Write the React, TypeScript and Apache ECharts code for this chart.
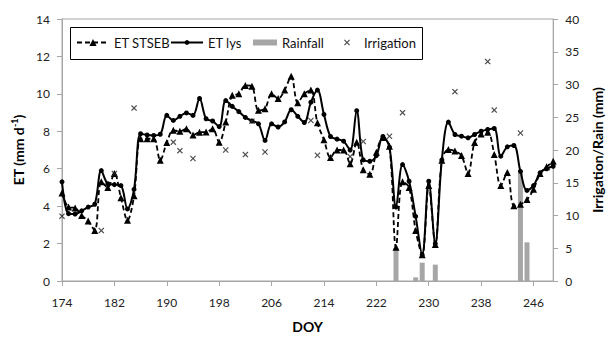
import React, { useEffect, useRef } from "react";
import * as echarts from "echarts";

// Day of year for the ET series
const doy = [
  174, 175, 176, 177, 178, 179, 180, 181, 182, 183,
  184, 185, 186, 187, 188, 189, 190, 191, 192, 193,
  194, 195, 196, 197, 198, 199, 200, 201, 202, 203,
  204, 205, 206, 207, 208, 209, 210, 211, 212, 213,
  214, 215, 216, 217, 218, 219, 220, 221, 222, 223,
  224, 225, 226, 227, 228, 229, 230, 231, 232, 233,
  234, 235, 236, 237, 238, 239, 240, 241, 242, 243,
  244, 245, 246, 247, 248, 249,
];

// ET STSEB (mm d-1)
const etStseb = [
  4.7, 3.95, 3.9, 3.5, 3.2, 2.7, 5.3, 5.0, 5.75, 4.45,
  3.25, 4.55, 7.6, 7.6, 7.6, 6.45, 7.4, 8.05, 8.0, 8.13,
  7.8, 7.95, 7.96, 8.13, 7.42, 8.5, 9.92, 10.0, 10.45, 10.4,
  9.12, 9.21, 10.0, 9.75, 10.2, 10.94, 9.52, 10.0, 10.2, 8.45,
  7.55, 6.6, 7.0, 7.0, 6.26, 7.42, 5.95, 5.7, 6.88, 7.67,
  7.2, 1.8, 5.3, 5.0, 2.7, 1.4, 5.1, 1.95, 6.45, 7.03,
  6.94, 6.7, 5.75, 7.4, 7.85, 7.95, 6.76, 5.1, 5.8, 4.02,
  4.1, 4.35, 4.9, 5.74, 6.1, 6.4,
];

// ET lysimeter (mm d-1)
const etLys = [
  5.3, 3.6, 3.58, 3.75, 3.95, 4.1, 5.9, 5.2, 5.15, 5.1,
  3.85, 4.9, 7.87, 7.8, 7.78, 7.84, 8.85, 8.58, 8.8, 8.98,
  8.85, 9.75, 8.67, 8.55, 8.25, 9.64, 9.33, 9.05, 8.74, 8.55,
  8.4, 7.51, 8.4, 8.23, 8.5, 9.15, 8.8, 8.47, 9.55, 10.2,
  8.9, 7.72, 7.58, 7.47, 7.0, 9.1, 6.47, 6.4, 6.7, 7.72,
  7.15, 3.95, 6.22, 5.33, 3.45, 1.4, 5.33, 2.0, 6.47, 8.49,
  7.83, 7.74, 7.65, 7.83, 8.0, 8.1, 8.15, 6.67, 7.17, 7.24,
  5.86, 4.84, 5.1, 5.78, 6.0, 6.13,
];

// Rainfall (mm)
const rainDays = [225, 228, 229, 231, 244, 245];
const rainMm = [5.0, 0.55, 2.8, 2.5, 16.9, 5.9];

// Irrigation (mm)
const irrDays = [174, 180, 182, 185, 191, 192, 194, 199, 202, 203, 205, 212, 213, 218, 220, 224, 226, 234, 239, 240, 244];
const irrMm = [9.9, 7.7, 16.4, 26.4, 21.2, 19.9, 18.7, 20.0, 19.3, 24.4, 19.7, 24.5, 19.2, 19.0, 21.3, 22.1, 25.7, 28.9, 33.5, 26.1, 22.6];

// Axes
const xMin = 174;
const xMax = 249;
const xStep = 8;
const etMax = 14;
const etStep = 2;
const mmMax = 40;
const mmStep = 5;

const FONT = "Lato, 'Noto Sans', sans-serif";
const AXIS_GRAY = "#A6A6A6";
const CROSS = "path://M0,1.4L1.4,0L5,3.6L8.6,0L10,1.4L6.4,5L10,8.6L8.6,10L5,6.4L1.4,10L0,8.6L3.6,5Z";

export default function App() {
  const ref = useRef<HTMLDivElement>(null);

  useEffect(() => {
    if (!ref.current) return;
    const chart = echarts.init(ref.current, undefined, { renderer: "svg" });

    const zip = (xs: number[], ys: number[]) => xs.map((x, i) => [x, ys[i]]);
    const legendText = { fontFamily: FONT, fontSize: 13, color: "#111" };

    const option: any = {
      animation: false,
      backgroundColor: "#fff",
      textStyle: { fontFamily: FONT },
      grid: {
        left: 62,
        right: 52,
        top: 19,
        bottom: 57,
        show: true,
        borderColor: AXIS_GRAY,
        borderWidth: 1,
      },
      graphic: [
        {
          type: "rect",
          z: 1,
          shape: { x: 70.5, y: 27.5, width: 352, height: 32 },
          style: { fill: "#fff", stroke: "#000", lineWidth: 1 },
        },
      ],
      legend: [
        {
          data: ["ET STSEB"],
          left: 76,
          top: 36,
          padding: 0,
          itemWidth: 32,
          itemHeight: 9,
          textStyle: legendText,
          z: 5,
        },
        {
          data: ["ET lys"],
          left: 170,
          top: 36,
          padding: 0,
          itemWidth: 32,
          itemHeight: 6,
          textStyle: legendText,
          z: 5,
        },
        {
          data: [{ name: "Rainfall", icon: "rect" }],
          left: 253,
          top: 36,
          padding: 0,
          itemWidth: 24,
          itemHeight: 6,
          textStyle: legendText,
          z: 5,
        },
        {
          data: ["Irrigation"],
          left: 344,
          top: 36,
          padding: 0,
          itemWidth: 24,
          itemHeight: 6,
          symbolKeepAspect: true,
          textStyle: legendText,
          z: 5,
        },
      ],
      xAxis: {
        type: "value",
        min: xMin,
        max: xMax,
        interval: xStep,
        name: "DOY",
        nameLocation: "middle",
        nameGap: 38,
        nameTextStyle: { fontFamily: FONT, fontWeight: "bold", fontSize: 14, color: "#000" },
        axisLine: { show: true, onZero: false, lineStyle: { color: AXIS_GRAY, width: 1 } },
        axisTick: { show: true, length: 5, lineStyle: { color: AXIS_GRAY } },
        axisLabel: { fontFamily: FONT, fontSize: 12, color: "#222", margin: 15, showMaxLabel: false },
        splitLine: { show: false },
      },
      yAxis: [
        {
          type: "value",
          position: "left",
          min: 0,
          max: etMax,
          interval: etStep,
          name: "{a|ET (mm d}{s|-1}{a|)}",
          nameLocation: "middle",
          nameRotate: 90,
          nameGap: 36,
          nameTextStyle: {
            rich: {
              a: { fontFamily: FONT, fontWeight: "bold", fontSize: 14, color: "#000", lineHeight: 16 },
              s: { fontFamily: FONT, fontWeight: "bold", fontSize: 9, color: "#000", verticalAlign: "top", lineHeight: 10 },
            },
          },
          axisLine: { show: true, lineStyle: { color: AXIS_GRAY, width: 1 } },
          axisTick: { show: true, length: 5, lineStyle: { color: AXIS_GRAY } },
          axisLabel: { fontFamily: FONT, fontSize: 12, color: "#222", margin: 12 },
          splitLine: { show: false },
        },
        {
          type: "value",
          position: "right",
          min: 0,
          max: mmMax,
          interval: mmStep,
          name: "Irrigation/Rain (mm)",
          nameLocation: "middle",
          nameRotate: 90,
          nameGap: 32,
          nameTextStyle: { fontFamily: FONT, fontWeight: "bold", fontSize: 14, color: "#000" },
          axisLine: { show: true, lineStyle: { color: AXIS_GRAY, width: 1 } },
          axisTick: { show: true, length: 5, lineStyle: { color: AXIS_GRAY } },
          axisLabel: { fontFamily: FONT, fontSize: 12, color: "#222", margin: 12 },
          splitLine: { show: false },
        },
      ],
      series: [
        {
          name: "Rainfall",
          type: "bar",
          yAxisIndex: 1,
          barWidth: 5,
          itemStyle: { color: AXIS_GRAY },
          data: zip(rainDays, rainMm),
          z: 1,
        },
        {
          name: "ET STSEB",
          type: "line",
          yAxisIndex: 0,
          smooth: 0.35,
          symbol: "triangle",
          symbolSize: 7,
          showAllSymbol: true,
          lineStyle: { color: "#000", width: 1.8, type: [5, 3] },
          itemStyle: { color: "#000" },
          data: zip(doy, etStseb),
          z: 3,
        },
        {
          name: "ET lys",
          type: "line",
          yAxisIndex: 0,
          smooth: 0.35,
          symbol: "circle",
          symbolSize: 5,
          showAllSymbol: true,
          lineStyle: { color: "#000", width: 2 },
          itemStyle: { color: "#000" },
          data: zip(doy, etLys),
          z: 4,
        },
        {
          name: "Irrigation",
          type: "scatter",
          yAxisIndex: 1,
          symbol: CROSS,
          symbolSize: 6,
          symbolKeepAspect: true,
          itemStyle: { color: "#222" },
          data: zip(irrDays, irrMm),
          z: 5,
        },
      ],
    };

    chart.setOption(option);
    return () => chart.dispose();
  }, []);

  return (
    <div
      ref={ref}
      style={{ position: "fixed", left: 0, top: 0, width: 612, height: 338, background: "#fff" }}
    />
  );
}
